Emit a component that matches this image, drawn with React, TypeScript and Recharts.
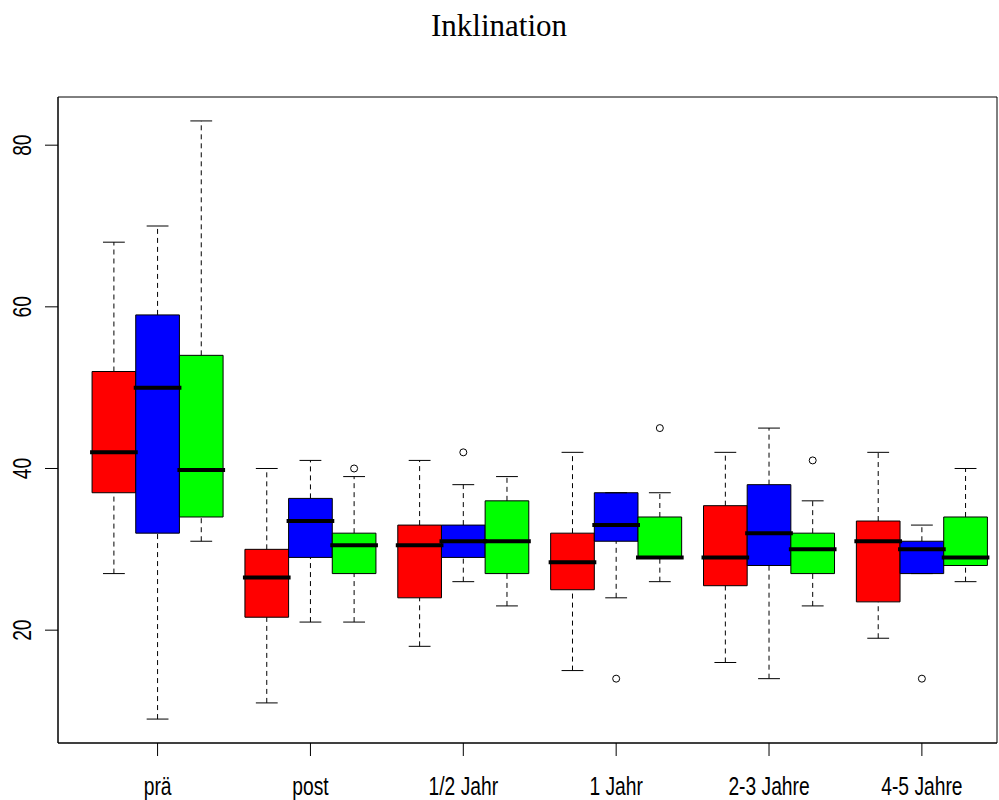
import React from "react";
import {
  ComposedChart,
  XAxis,
  YAxis,
  Scatter,
  ReferenceArea,
  ReferenceLine,
} from "recharts";

// follow-up time points
const categories = ["prä", "post", "1/2 Jahr", "1 Jahr", "2-3 Jahre", "4-5 Jahre"];

// per time point: [lower whisker, Q1, median, Q3, upper whisker]
const redStats = [
  [27, 37, 42, 52, 68],
  [11, 21.6, 26.5, 30, 40],
  [18, 24, 30.5, 33, 41],
  [15, 25, 28.4, 32, 42],
  [16, 25.5, 29, 35.4, 42],
  [19, 23.5, 31, 33.5, 42],
];
const blueStats = [
  [9, 32, 50, 59, 70],
  [21, 29, 33.5, 36.3, 41],
  [26, 29, 31, 33, 38],
  [24, 31, 33, 37, 37],
  [14, 28, 32, 38, 45],
  [27, 27, 30, 31, 33],
];
const greenStats = [
  [31, 34, 39.8, 54, 83],
  [21, 27, 30.5, 32, 39],
  [23, 27, 31, 36, 39],
  [26, 29, 29, 34, 37],
  [23, 27, 30, 32, 36],
  [26, 28, 29, 34, 40],
];

// single points outside the whiskers: [time point, series, value]
const outliers = [
  [1, 2, 40],
  [2, 1, 42],
  [3, 1, 14],
  [3, 2, 45],
  [4, 2, 41],
  [5, 1, 14],
];

const yTicks = [20, 40, 60, 80];

const series = [
  { color: "#ff0000", stats: redStats },
  { color: "#0000ff", stats: blueStats },
  { color: "#00ff00", stats: greenStats },
];

// three adjacent boxes per time point, groups 3.5 box widths apart
const GROUP_STEP = 3.5;
const boxPos = (g: number, s: number) => g * GROUP_STEP + s;
const groupCenters = categories.map((_, g) => boxPos(g, 1));
const xDomain: [number, number] = [-1.28, 20.22];

// y range like R: data range widened by 4% on each side
const allValues = [
  ...series.flatMap((s) => s.stats.flat()),
  ...outliers.map((o) => o[2]),
];
const yMinData = Math.min(...allValues);
const yMaxData = Math.max(...allValues);
const yPad = (yMaxData - yMinData) * 0.04;
const yDomain: [number, number] = [yMinData - yPad, yMaxData + yPad];

const outlierData = outliers.map(([g, s, v]) => ({ x: boxPos(g, s), y: v }));

const labelFont = "'Liberation Sans', Arial, sans-serif";
const DASH = "5 4";

const XTick = (props: any) => {
  const { x, y, payload } = props;
  const idx = groupCenters.indexOf(payload.value);
  return (
    <text
      transform={`translate(${x},${y + 37}) scale(0.74,1)`}
      textAnchor="middle"
      fontFamily={labelFont}
      fontSize={26}
      fill="#000"
    >
      {categories[idx] ?? ""}
    </text>
  );
};

const YTick = (props: any) => {
  const { x, y, payload } = props;
  return (
    <text
      transform={`translate(${x - 12},${y}) rotate(-90) scale(0.74,1)`}
      textAnchor="middle"
      fontFamily={labelFont}
      fontSize={26}
      fill="#000"
    >
      {payload.value}
    </text>
  );
};

const Outlier = (props: any) => (
  <circle cx={props.cx} cy={props.cy} r={3.5} fill="#fff" stroke="#000" strokeWidth={1} />
);

export default function App() {
  const whiskers: React.ReactNode[] = [];
  const boxes: React.ReactNode[] = [];
  const medians: React.ReactNode[] = [];

  categories.forEach((_, g) => {
    series.forEach((s, si) => {
      const [lo, q1, med, q3, hi] = s.stats[g];
      const x = boxPos(g, si);
      const k = `${g}-${si}`;
      whiskers.push(
        <ReferenceLine
          key={`wl-${k}`}
          segment={[{ x, y: lo }, { x, y: q1 }]}
          stroke="#000"
          strokeDasharray={DASH}
        />,
        <ReferenceLine
          key={`wh-${k}`}
          segment={[{ x, y: q3 }, { x, y: hi }]}
          stroke="#000"
          strokeDasharray={DASH}
        />,
        <ReferenceLine
          key={`cl-${k}`}
          segment={[{ x: x - 0.25, y: lo }, { x: x + 0.25, y: lo }]}
          stroke="#000"
        />,
        <ReferenceLine
          key={`ch-${k}`}
          segment={[{ x: x - 0.25, y: hi }, { x: x + 0.25, y: hi }]}
          stroke="#000"
        />
      );
      boxes.push(
        <ReferenceArea
          key={`b-${k}`}
          x1={x - 0.5}
          x2={x + 0.5}
          y1={q1}
          y2={q3}
          fill={s.color}
          fillOpacity={1}
          stroke="#000"
          strokeWidth={1}
        />
      );
      medians.push(
        <ReferenceLine
          key={`m-${k}`}
          segment={[{ x: x - 0.5, y: med }, { x: x + 0.5, y: med }]}
          stroke="#000"
          strokeWidth={4}
          strokeLinecap="square"
        />
      );
    });
  });

  return (
    <div style={{ position: "absolute", left: 0, top: 0, width: 999, height: 800, background: "#fff" }}>
      <svg width={999} height={50} style={{ position: "absolute", left: 0, top: 0 }}>
        <text
          x={499}
          y={36}
          textAnchor="middle"
          fontFamily="'Liberation Serif', 'Times New Roman', serif"
          fontSize={31}
          fill="#000"
        >
          Inklination
        </text>
      </svg>
      <ComposedChart
        width={999}
        height={800}
        margin={{ top: 97, right: 2, bottom: 0, left: 0 }}
      >
        <XAxis
          type="number"
          dataKey="x"
          domain={xDomain}
          allowDataOverflow
          ticks={groupCenters}
          interval={0}
          height={57}
          tickSize={13}
          tick={<XTick />}
          axisLine={{ stroke: "#000" }}
          tickLine={{ stroke: "#000" }}
        />
        <YAxis
          type="number"
          dataKey="y"
          domain={yDomain}
          allowDataOverflow
          ticks={yTicks}
          interval={0}
          width={58}
          tickSize={13}
          tick={<YTick />}
          axisLine={{ stroke: "#000" }}
          tickLine={{ stroke: "#000" }}
        />
        <ReferenceArea
          x1={xDomain[0]}
          x2={xDomain[1]}
          y1={yDomain[0]}
          y2={yDomain[1]}
          fill="none"
          stroke="#000"
          strokeWidth={1}
        />
        {whiskers}
        {boxes}
        {medians}
        <Scatter
          data={outlierData}
          dataKey="y"
          isAnimationActive={false}
          shape={<Outlier />}
        />
      </ComposedChart>
    </div>
  );
}
